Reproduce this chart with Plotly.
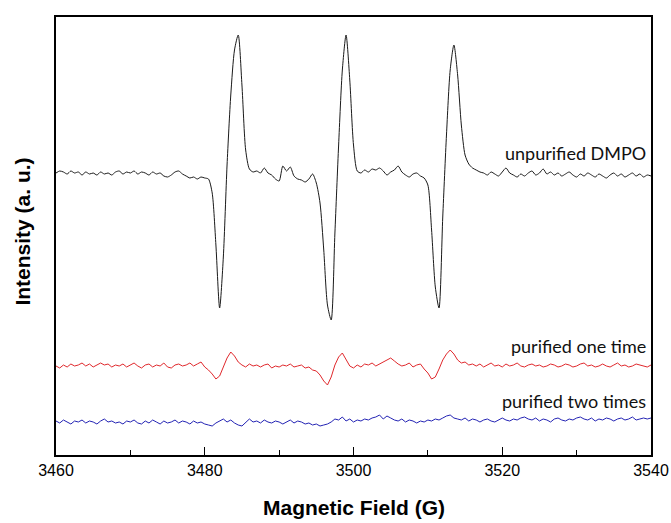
import numpy as np
import plotly.graph_objects as go

# Magnetic field sampling grid (G), 0.5 G step
field = np.linspace(3460, 3540, 161)

# Intensities (arbitrary units)
unpurified = [
    282, 284, 283, 281, 284, 282, 283, 280, 283, 281, 282, 280, 283, 281, 282, 280, 283, 284, 281, 283,
    282, 284, 281, 283, 282, 280, 283, 281, 282, 279, 278, 280, 283, 284, 281, 279, 277, 278, 276, 278,
    277, 276, 262, 210, 147, 198, 290, 360, 405, 420, 370, 305, 286, 283, 284, 282, 287, 282, 280, 276,
    274, 289, 284, 288, 279, 276, 275, 273, 276, 281, 272, 252, 205, 150, 135, 222, 310, 385, 420, 375,
    310, 284, 282, 285, 283, 286, 285, 287, 284, 280, 283, 285, 289, 283, 280, 278, 281, 282, 279, 277,
    270, 225, 168, 147, 238, 320, 385, 410, 380, 330, 300, 291, 287, 285, 283, 282, 280, 283, 281, 279,
    283, 287, 282, 280, 278, 281, 279, 282, 284, 280, 282, 286, 281, 283, 280, 282, 279, 281, 283, 280,
    278, 281, 279, 282, 280, 278, 281, 279, 277, 280, 282, 279, 281, 278, 280, 282, 279, 281, 278, 280,
    279,
]
purified_one = [
    89, 87, 90, 88, 91, 89, 90, 92, 89, 91, 88, 90, 92, 90, 91, 88, 90, 89, 91, 88,
    90, 92, 89, 87, 90, 91, 88, 90, 89, 92, 88, 87, 90, 91, 89, 90, 92, 89, 91, 93,
    88, 85, 81, 76, 79, 88, 97, 103, 99, 93, 90, 88, 91, 89, 90, 88, 90, 91, 87, 89,
    88, 90, 89, 91, 88, 89, 90, 87, 88, 85, 84, 80, 74, 70, 78, 90, 98, 102, 96, 89,
    87, 90, 88, 91, 90, 92, 89, 91, 93, 95, 97, 94, 91, 89, 90, 92, 88, 90, 91, 86,
    82, 76, 78, 86, 95, 101, 105, 101, 95, 92, 93, 90, 91, 89, 91, 88, 90, 92, 89, 90,
    88, 91, 89, 90, 92, 89, 88, 90, 91, 89, 90, 88, 89, 91, 90, 88, 89, 91, 90, 88,
    89, 91, 92, 89, 90, 88, 89, 91, 89, 88, 90, 92, 89, 90, 88, 89, 91, 90, 89, 88,
    90,
]
purified_two = [
    34, 32, 35, 33, 31, 34, 33, 35, 32, 34, 33, 31, 34, 36, 33, 34, 32, 33, 31, 34,
    33, 35, 32, 31, 34, 32, 35, 33, 31, 34, 32, 33, 35, 32, 34, 33, 31, 34, 32, 33,
    31, 30, 29, 32, 34, 36, 33, 35, 32, 30, 29, 33, 36, 33, 34, 32, 35, 33, 32, 34,
    33, 31, 33, 35, 32, 34, 33, 31, 32, 30, 31, 29, 30, 31, 33, 36, 35, 38, 34, 36,
    33, 35, 34, 36, 35, 37, 38, 40, 36, 39, 37, 35, 34, 36, 33, 35, 34, 32, 34, 33,
    35, 34, 36, 35, 37, 39, 40, 37, 36, 35, 37, 34, 36, 35, 33, 35, 36, 34, 33, 35,
    37, 35, 34, 36, 35, 37, 38, 36, 35, 37, 34, 36, 35, 33, 36, 37, 35, 34, 36, 35,
    37, 38, 36, 35, 37, 34, 36, 35, 37, 36, 34, 36, 37, 35, 36, 38, 35, 36, 37, 36,
    37,
]

series_names = ["unpurified DMPO", "purified one time", "purified two times"]
series_values = [unpurified, purified_one, purified_two]
series_colors = ["#1a1a1a", "#e0282c", "#2323b4"]
series_shapes = ["spline", "linear", "linear"]
label_y = [302, 109, 54]

x_ticks = [3460, 3480, 3500, 3520, 3540]

fig = go.Figure()
for name, vals, col, shp in zip(series_names, series_values, series_colors, series_shapes):
    fig.add_trace(go.Scatter(x=field, y=vals, mode="lines", name=name,
                             line=dict(color=col, width=1, shape=shp, smoothing=0.7),
                             showlegend=False))

for name, ly in zip(series_names, label_y):
    fig.add_annotation(x=3539.6, y=ly, xref="x", yref="y", text=name, showarrow=False,
                       xanchor="right", yanchor="middle",
                       font=dict(family="Lato", size=18, color="#111"))

fig.add_annotation(x=0.5, y=-0.121, xref="paper", yref="paper", xanchor="center", yanchor="middle",
                   text="<b>Magnetic Field (G)</b>", showarrow=False,
                   font=dict(family="Liberation Sans", size=21, color="black"))
fig.add_annotation(x=-0.0555, y=0.51, xref="paper", yref="paper", xanchor="center", yanchor="middle",
                   text="<b>Intensity (a. u.)</b>", showarrow=False, textangle=-90,
                   font=dict(family="Liberation Sans", size=21, color="black"))

fig.update_layout(
    width=671, height=523,
    margin=dict(l=56, r=20, t=17, b=68, autoexpand=False),
    paper_bgcolor="white", plot_bgcolor="white",
    font=dict(family="Liberation Sans", color="black"),
)
fig.update_xaxes(
    range=[3460, 3540], tickvals=x_ticks, ticktext=[str(v) for v in x_ticks],
    ticks="inside", ticklen=8, tickwidth=1.2, tickcolor="black",
    minor=dict(ticks="inside", dtick=10, tick0=3460, ticklen=5, tickwidth=1.2, tickcolor="black"),
    showline=True, linecolor="black", linewidth=1.5, mirror=True,
    showgrid=False, zeroline=False, automargin=False,
    tickfont=dict(family="Liberation Sans", size=16, color="black"),
)
fig.update_yaxes(
    range=[0, 438], showticklabels=False, ticks="",
    showline=True, linecolor="black", linewidth=1.5, mirror=True,
    showgrid=False, zeroline=False, automargin=False,
)

# remove the default page margin so the figure fills the 671x523 window exactly
fig.write_html(
    "out.html",
    config={"displayModeBar": False},
    post_script="document.body.style.margin='0';document.documentElement.style.overflow='hidden';",
)
